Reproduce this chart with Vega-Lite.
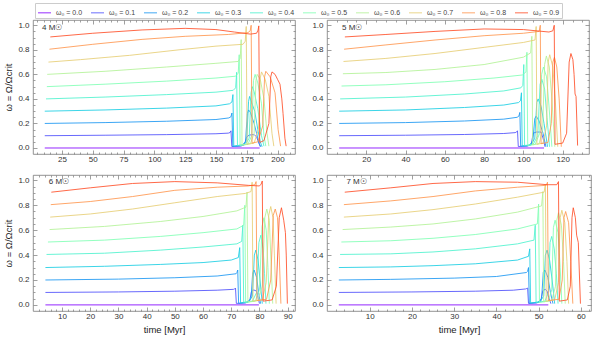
{
"$schema":"https://vega.github.io/schema/vega-lite/v6.json",
"padding":{"left":3,"top":2,"right":6,"bottom":2},
"config":{"font":"Liberation Sans","view":{"stroke":"#777","strokeWidth":0.8},
"axis":{"grid":false,"domain":false,"labelFontSize":8,"labelColor":"#333","tickColor":"#777","tickWidth":0.7,"titleFontSize":9.5,"titleFontWeight":"normal","titleColor":"#222","labelFlush":false,"labelOverlap":false}},
"datasets":{"labels":[{"m":4,"t":8.8,"w":0.98,"txt":"4 M☉"},{"m":5,"t":7.7,"w":0.98,"txt":"5 M☉"},{"m":6,"t":5.3,"w":0.985,"txt":"6 M☉"},{"m":7,"t":4.5,"w":0.985,"txt":"7 M☉"}]},
"data":{"values":[
{"m":4,"k":0,"t":11,"w":0},{"m":4,"k":0,"t":185.5,"w":0},
{"m":4,"k":0.1,"t":11,"w":0.1},{"m":4,"k":0.1,"t":60,"w":0.104},{"m":4,"k":0.1,"t":110,"w":0.109},{"m":4,"k":0.1,"t":150,"w":0.116},{"m":4,"k":0.1,"t":160,"w":0.121},{"m":4,"k":0.1,"t":161.5,"w":0.126},{"m":4,"k":0.1,"t":162.2,"w":0.14},{"m":4,"k":0.1,"t":162.9,"w":0.012},{"m":4,"k":0.1,"t":170,"w":0.015},{"m":4,"k":0.1,"t":173,"w":0.025},{"m":4,"k":0.1,"t":175,"w":0.09},{"m":4,"k":0.1,"t":177,"w":0.105},{"m":4,"k":0.1,"t":181,"w":0.11},{"m":4,"k":0.1,"t":183,"w":0.09},{"m":4,"k":0.1,"t":184.5,"w":0.05},{"m":4,"k":0.1,"t":186,"w":0.01},
{"m":4,"k":0.2,"t":11,"w":0.2},{"m":4,"k":0.2,"t":60,"w":0.207},{"m":4,"k":0.2,"t":110,"w":0.218},{"m":4,"k":0.2,"t":150,"w":0.232},{"m":4,"k":0.2,"t":160.5,"w":0.245},{"m":4,"k":0.2,"t":162.2,"w":0.255},{"m":4,"k":0.2,"t":163,"w":0.285},{"m":4,"k":0.2,"t":163.7,"w":0.012},{"m":4,"k":0.2,"t":171,"w":0.02},{"m":4,"k":0.2,"t":174,"w":0.05},{"m":4,"k":0.2,"t":175.5,"w":0.28},{"m":4,"k":0.2,"t":176.5,"w":0.31},{"m":4,"k":0.2,"t":178,"w":0.29},{"m":4,"k":0.2,"t":181,"w":0.2},{"m":4,"k":0.2,"t":183,"w":0.12},{"m":4,"k":0.2,"t":185,"w":0.04},{"m":4,"k":0.2,"t":186.5,"w":0.01},
{"m":4,"k":0.3,"t":11,"w":0.3},{"m":4,"k":0.3,"t":60,"w":0.31},{"m":4,"k":0.3,"t":110,"w":0.325},{"m":4,"k":0.3,"t":150,"w":0.343},{"m":4,"k":0.3,"t":161,"w":0.36},{"m":4,"k":0.3,"t":163,"w":0.375},{"m":4,"k":0.3,"t":163.8,"w":0.435},{"m":4,"k":0.3,"t":164.5,"w":0.015},{"m":4,"k":0.3,"t":172,"w":0.025},{"m":4,"k":0.3,"t":175,"w":0.06},{"m":4,"k":0.3,"t":176.5,"w":0.38},{"m":4,"k":0.3,"t":177.3,"w":0.42},{"m":4,"k":0.3,"t":179,"w":0.37},{"m":4,"k":0.3,"t":181.5,"w":0.3},{"m":4,"k":0.3,"t":184,"w":0.15},{"m":4,"k":0.3,"t":186,"w":0.05},{"m":4,"k":0.3,"t":187.5,"w":0.01},
{"m":4,"k":0.4,"t":12,"w":0.4},{"m":4,"k":0.4,"t":60,"w":0.415},{"m":4,"k":0.4,"t":110,"w":0.435},{"m":4,"k":0.4,"t":150,"w":0.455},{"m":4,"k":0.4,"t":164,"w":0.47},{"m":4,"k":0.4,"t":166,"w":0.49},{"m":4,"k":0.4,"t":166.8,"w":0.617},{"m":4,"k":0.4,"t":167.5,"w":0.02},{"m":4,"k":0.4,"t":174,"w":0.03},{"m":4,"k":0.4,"t":177,"w":0.08},{"m":4,"k":0.4,"t":178.5,"w":0.45},{"m":4,"k":0.4,"t":179.5,"w":0.5},{"m":4,"k":0.4,"t":181,"w":0.46},{"m":4,"k":0.4,"t":184,"w":0.32},{"m":4,"k":0.4,"t":187,"w":0.1},{"m":4,"k":0.4,"t":189,"w":0.015},
{"m":4,"k":0.5,"t":12.7,"w":0.5},{"m":4,"k":0.5,"t":60,"w":0.52},{"m":4,"k":0.5,"t":110,"w":0.545},{"m":4,"k":0.5,"t":150,"w":0.57},{"m":4,"k":0.5,"t":166,"w":0.585},{"m":4,"k":0.5,"t":168.1,"w":0.61},{"m":4,"k":0.5,"t":168.9,"w":0.76},{"m":4,"k":0.5,"t":169.6,"w":0.02},{"m":4,"k":0.5,"t":176,"w":0.03},{"m":4,"k":0.5,"t":179,"w":0.1},{"m":4,"k":0.5,"t":180.5,"w":0.55},{"m":4,"k":0.5,"t":181.8,"w":0.6},{"m":4,"k":0.5,"t":184,"w":0.53},{"m":4,"k":0.5,"t":187,"w":0.36},{"m":4,"k":0.5,"t":189,"w":0.1},{"m":4,"k":0.5,"t":190.5,"w":0.015},
{"m":4,"k":0.6,"t":13,"w":0.6},{"m":4,"k":0.6,"t":60,"w":0.625},{"m":4,"k":0.6,"t":110,"w":0.66},{"m":4,"k":0.6,"t":150,"w":0.69},{"m":4,"k":0.6,"t":168,"w":0.705},{"m":4,"k":0.6,"t":169.7,"w":0.73},{"m":4,"k":0.6,"t":170.5,"w":0.883},{"m":4,"k":0.6,"t":171.2,"w":0.025},{"m":4,"k":0.6,"t":178,"w":0.035},{"m":4,"k":0.6,"t":181,"w":0.12},{"m":4,"k":0.6,"t":182.5,"w":0.55},{"m":4,"k":0.6,"t":183.5,"w":0.6},{"m":4,"k":0.6,"t":186,"w":0.56},{"m":4,"k":0.6,"t":189,"w":0.4},{"m":4,"k":0.6,"t":191.5,"w":0.12},{"m":4,"k":0.6,"t":193,"w":0.015},
{"m":4,"k":0.7,"t":14,"w":0.7},{"m":4,"k":0.7,"t":40,"w":0.72},{"m":4,"k":0.7,"t":80,"w":0.755},{"m":4,"k":0.7,"t":120,"w":0.8},{"m":4,"k":0.7,"t":150,"w":0.83},{"m":4,"k":0.7,"t":172,"w":0.845},{"m":4,"k":0.7,"t":173.8,"w":0.87},{"m":4,"k":0.7,"t":174.6,"w":0.99},{"m":4,"k":0.7,"t":175.3,"w":0.03},{"m":4,"k":0.7,"t":181,"w":0.04},{"m":4,"k":0.7,"t":184.5,"w":0.15},{"m":4,"k":0.7,"t":186,"w":0.57},{"m":4,"k":0.7,"t":187,"w":0.62},{"m":4,"k":0.7,"t":190,"w":0.56},{"m":4,"k":0.7,"t":193,"w":0.42},{"m":4,"k":0.7,"t":195.5,"w":0.12},{"m":4,"k":0.7,"t":197,"w":0.015},
{"m":4,"k":0.8,"t":14.8,"w":0.805},{"m":4,"k":0.8,"t":50,"w":0.845},{"m":4,"k":0.8,"t":90,"w":0.885},{"m":4,"k":0.8,"t":125,"w":0.91},{"m":4,"k":0.8,"t":160,"w":0.925},{"m":4,"k":0.8,"t":176,"w":0.94},{"m":4,"k":0.8,"t":177.8,"w":0.955},{"m":4,"k":0.8,"t":178.6,"w":1.0},{"m":4,"k":0.8,"t":179.3,"w":0.04},{"m":4,"k":0.8,"t":184,"w":0.05},{"m":4,"k":0.8,"t":188,"w":0.18},{"m":4,"k":0.8,"t":189.5,"w":0.58},{"m":4,"k":0.8,"t":190.5,"w":0.625},{"m":4,"k":0.8,"t":194,"w":0.58},{"m":4,"k":0.8,"t":198,"w":0.45},{"m":4,"k":0.8,"t":200.5,"w":0.15},{"m":4,"k":0.8,"t":202.5,"w":0.015},
{"m":4,"k":0.9,"t":15.5,"w":0.905},{"m":4,"k":0.9,"t":50,"w":0.935},{"m":4,"k":0.9,"t":90,"w":0.962},{"m":4,"k":0.9,"t":125,"w":0.975},{"m":4,"k":0.9,"t":150,"w":0.965},{"m":4,"k":0.9,"t":165,"w":0.945},{"m":4,"k":0.9,"t":178,"w":0.928},{"m":4,"k":0.9,"t":183,"w":0.935},{"m":4,"k":0.9,"t":184.2,"w":0.96},{"m":4,"k":0.9,"t":184.8,"w":0.995},{"m":4,"k":0.9,"t":185.5,"w":0.045},{"m":4,"k":0.9,"t":189,"w":0.06},{"m":4,"k":0.9,"t":193,"w":0.2},{"m":4,"k":0.9,"t":194.5,"w":0.58},{"m":4,"k":0.9,"t":195.5,"w":0.62},{"m":4,"k":0.9,"t":198,"w":0.6},{"m":4,"k":0.9,"t":200,"w":0.56},{"m":4,"k":0.9,"t":202,"w":0.52},{"m":4,"k":0.9,"t":203.5,"w":0.4},{"m":4,"k":0.9,"t":204.5,"w":0.28},{"m":4,"k":0.9,"t":206,"w":0.08},{"m":4,"k":0.9,"t":207,"w":0.015},
{"m":5,"k":0,"t":6.2,"w":0},{"m":5,"k":0,"t":110.5,"w":0},
{"m":5,"k":0.1,"t":6.2,"w":0.1},{"m":5,"k":0.1,"t":40,"w":0.104},{"m":5,"k":0.1,"t":70,"w":0.11},{"m":5,"k":0.1,"t":90,"w":0.118},{"m":5,"k":0.1,"t":95.8,"w":0.125},{"m":5,"k":0.1,"t":96.5,"w":0.13},{"m":5,"k":0.1,"t":97,"w":0.14},{"m":5,"k":0.1,"t":97.4,"w":0.012},{"m":5,"k":0.1,"t":102,"w":0.015},{"m":5,"k":0.1,"t":104,"w":0.03},{"m":5,"k":0.1,"t":105,"w":0.12},{"m":5,"k":0.1,"t":106.5,"w":0.13},{"m":5,"k":0.1,"t":109,"w":0.13},{"m":5,"k":0.1,"t":110,"w":0.08},{"m":5,"k":0.1,"t":111,"w":0.01},
{"m":5,"k":0.2,"t":6.2,"w":0.2},{"m":5,"k":0.2,"t":40,"w":0.207},{"m":5,"k":0.2,"t":70,"w":0.22},{"m":5,"k":0.2,"t":90,"w":0.235},{"m":5,"k":0.2,"t":96.8,"w":0.25},{"m":5,"k":0.2,"t":97.7,"w":0.26},{"m":5,"k":0.2,"t":98.2,"w":0.29},{"m":5,"k":0.2,"t":98.6,"w":0.015},{"m":5,"k":0.2,"t":103,"w":0.02},{"m":5,"k":0.2,"t":104.8,"w":0.06},{"m":5,"k":0.2,"t":105.8,"w":0.24},{"m":5,"k":0.2,"t":106.5,"w":0.26},{"m":5,"k":0.2,"t":108,"w":0.22},{"m":5,"k":0.2,"t":110,"w":0.12},{"m":5,"k":0.2,"t":111.5,"w":0.01},
{"m":5,"k":0.3,"t":6.2,"w":0.3},{"m":5,"k":0.3,"t":40,"w":0.31},{"m":5,"k":0.3,"t":70,"w":0.33},{"m":5,"k":0.3,"t":90,"w":0.35},{"m":5,"k":0.3,"t":97.5,"w":0.37},{"m":5,"k":0.3,"t":98.5,"w":0.385},{"m":5,"k":0.3,"t":99,"w":0.45},{"m":5,"k":0.3,"t":99.4,"w":0.015},{"m":5,"k":0.3,"t":104,"w":0.025},{"m":5,"k":0.3,"t":105.8,"w":0.08},{"m":5,"k":0.3,"t":106.8,"w":0.37},{"m":5,"k":0.3,"t":107.5,"w":0.4},{"m":5,"k":0.3,"t":109,"w":0.34},{"m":5,"k":0.3,"t":110.5,"w":0.2},{"m":5,"k":0.3,"t":112.3,"w":0.01},
{"m":5,"k":0.4,"t":6.7,"w":0.4},{"m":5,"k":0.4,"t":40,"w":0.415},{"m":5,"k":0.4,"t":70,"w":0.44},{"m":5,"k":0.4,"t":90,"w":0.465},{"m":5,"k":0.4,"t":98.7,"w":0.49},{"m":5,"k":0.4,"t":99.7,"w":0.51},{"m":5,"k":0.4,"t":100.2,"w":0.68},{"m":5,"k":0.4,"t":100.6,"w":0.02},{"m":5,"k":0.4,"t":105,"w":0.03},{"m":5,"k":0.4,"t":107.3,"w":0.1},{"m":5,"k":0.4,"t":108.5,"w":0.52},{"m":5,"k":0.4,"t":109.4,"w":0.56},{"m":5,"k":0.4,"t":110.8,"w":0.48},{"m":5,"k":0.4,"t":112,"w":0.25},{"m":5,"k":0.4,"t":113.3,"w":0.01},
{"m":5,"k":0.5,"t":7.4,"w":0.505},{"m":5,"k":0.5,"t":30,"w":0.515},{"m":5,"k":0.5,"t":60,"w":0.54},{"m":5,"k":0.5,"t":85,"w":0.57},{"m":5,"k":0.5,"t":99.5,"w":0.595},{"m":5,"k":0.5,"t":101.3,"w":0.62},{"m":5,"k":0.5,"t":101.8,"w":0.78},{"m":5,"k":0.5,"t":102.2,"w":0.02},{"m":5,"k":0.5,"t":106,"w":0.03},{"m":5,"k":0.5,"t":108.3,"w":0.12},{"m":5,"k":0.5,"t":109.3,"w":0.6},{"m":5,"k":0.5,"t":110.2,"w":0.66},{"m":5,"k":0.5,"t":111.8,"w":0.58},{"m":5,"k":0.5,"t":113,"w":0.35},{"m":5,"k":0.5,"t":114.5,"w":0.01},
{"m":5,"k":0.6,"t":8.1,"w":0.605},{"m":5,"k":0.6,"t":30,"w":0.615},{"m":5,"k":0.6,"t":55,"w":0.64},{"m":5,"k":0.6,"t":80,"w":0.68},{"m":5,"k":0.6,"t":100,"w":0.74},{"m":5,"k":0.6,"t":103.7,"w":0.775},{"m":5,"k":0.6,"t":104.3,"w":0.91},{"m":5,"k":0.6,"t":104.7,"w":0.025},{"m":5,"k":0.6,"t":108,"w":0.035},{"m":5,"k":0.6,"t":109.8,"w":0.15},{"m":5,"k":0.6,"t":110.8,"w":0.68},{"m":5,"k":0.6,"t":111.7,"w":0.75},{"m":5,"k":0.6,"t":113.2,"w":0.66},{"m":5,"k":0.6,"t":114.5,"w":0.4},{"m":5,"k":0.6,"t":116,"w":0.01},
{"m":5,"k":0.7,"t":8.4,"w":0.705},{"m":5,"k":0.7,"t":30,"w":0.73},{"m":5,"k":0.7,"t":55,"w":0.77},{"m":5,"k":0.7,"t":80,"w":0.82},{"m":5,"k":0.7,"t":100,"w":0.86},{"m":5,"k":0.7,"t":105.9,"w":0.88},{"m":5,"k":0.7,"t":106.5,"w":0.99},{"m":5,"k":0.7,"t":106.9,"w":0.03},{"m":5,"k":0.7,"t":110,"w":0.04},{"m":5,"k":0.7,"t":111.8,"w":0.18},{"m":5,"k":0.7,"t":112.6,"w":0.7},{"m":5,"k":0.7,"t":113.4,"w":0.76},{"m":5,"k":0.7,"t":115,"w":0.66},{"m":5,"k":0.7,"t":116.2,"w":0.4},{"m":5,"k":0.7,"t":117.5,"w":0.01},
{"m":5,"k":0.8,"t":8.7,"w":0.805},{"m":5,"k":0.8,"t":30,"w":0.84},{"m":5,"k":0.8,"t":55,"w":0.88},{"m":5,"k":0.8,"t":80,"w":0.915},{"m":5,"k":0.8,"t":100,"w":0.935},{"m":5,"k":0.8,"t":108,"w":0.95},{"m":5,"k":0.8,"t":108.6,"w":1.0},{"m":5,"k":0.8,"t":109,"w":0.035},{"m":5,"k":0.8,"t":112.5,"w":0.045},{"m":5,"k":0.8,"t":114.2,"w":0.2},{"m":5,"k":0.8,"t":115,"w":0.7},{"m":5,"k":0.8,"t":115.8,"w":0.74},{"m":5,"k":0.8,"t":117,"w":0.66},{"m":5,"k":0.8,"t":118.2,"w":0.4},{"m":5,"k":0.8,"t":119.3,"w":0.01},
{"m":5,"k":0.9,"t":9.1,"w":0.905},{"m":5,"k":0.9,"t":30,"w":0.925},{"m":5,"k":0.9,"t":55,"w":0.95},{"m":5,"k":0.9,"t":80,"w":0.97},{"m":5,"k":0.9,"t":100,"w":0.965},{"m":5,"k":0.9,"t":113,"w":0.945},{"m":5,"k":0.9,"t":115,"w":0.955},{"m":5,"k":0.9,"t":115.7,"w":1.0},{"m":5,"k":0.9,"t":116.1,"w":0.03},{"m":5,"k":0.9,"t":120,"w":0.04},{"m":5,"k":0.9,"t":122,"w":0.12},{"m":5,"k":0.9,"t":123.3,"w":0.7},{"m":5,"k":0.9,"t":124.2,"w":0.77},{"m":5,"k":0.9,"t":125.2,"w":0.72},{"m":5,"k":0.9,"t":125.8,"w":0.6},{"m":5,"k":0.9,"t":126.3,"w":0.44},{"m":5,"k":0.9,"t":126.8,"w":0.42},{"m":5,"k":0.9,"t":127.6,"w":0.02},
{"m":6,"k":0,"t":4.1,"w":0},{"m":6,"k":0,"t":79.8,"w":0},
{"m":6,"k":0.1,"t":4.1,"w":0.1},{"m":6,"k":0.1,"t":30,"w":0.104},{"m":6,"k":0.1,"t":50,"w":0.11},{"m":6,"k":0.1,"t":65,"w":0.118},{"m":6,"k":0.1,"t":70.8,"w":0.125},{"m":6,"k":0.1,"t":71.2,"w":0.128},{"m":6,"k":0.1,"t":71.5,"w":0.135},{"m":6,"k":0.1,"t":71.8,"w":0.012},{"m":6,"k":0.1,"t":75,"w":0.015},{"m":6,"k":0.1,"t":76.5,"w":0.03},{"m":6,"k":0.1,"t":77.2,"w":0.11},{"m":6,"k":0.1,"t":78,"w":0.12},{"m":6,"k":0.1,"t":79,"w":0.11},{"m":6,"k":0.1,"t":79.5,"w":0.06},{"m":6,"k":0.1,"t":80,"w":0.01},
{"m":6,"k":0.2,"t":4.1,"w":0.2},{"m":6,"k":0.2,"t":30,"w":0.207},{"m":6,"k":0.2,"t":50,"w":0.218},{"m":6,"k":0.2,"t":65,"w":0.232},{"m":6,"k":0.2,"t":71.7,"w":0.25},{"m":6,"k":0.2,"t":72,"w":0.26},{"m":6,"k":0.2,"t":72.3,"w":0.28},{"m":6,"k":0.2,"t":72.6,"w":0.012},{"m":6,"k":0.2,"t":75.5,"w":0.02},{"m":6,"k":0.2,"t":77,"w":0.05},{"m":6,"k":0.2,"t":77.6,"w":0.26},{"m":6,"k":0.2,"t":78.1,"w":0.28},{"m":6,"k":0.2,"t":79,"w":0.22},{"m":6,"k":0.2,"t":79.7,"w":0.1},{"m":6,"k":0.2,"t":80.4,"w":0.01},
{"m":6,"k":0.3,"t":4.1,"w":0.3},{"m":6,"k":0.3,"t":25,"w":0.31},{"m":6,"k":0.3,"t":45,"w":0.325},{"m":6,"k":0.3,"t":60,"w":0.34},{"m":6,"k":0.3,"t":70,"w":0.36},{"m":6,"k":0.3,"t":72.5,"w":0.38},{"m":6,"k":0.3,"t":73,"w":0.46},{"m":6,"k":0.3,"t":73.3,"w":0.015},{"m":6,"k":0.3,"t":76,"w":0.025},{"m":6,"k":0.3,"t":77.5,"w":0.07},{"m":6,"k":0.3,"t":78.2,"w":0.4},{"m":6,"k":0.3,"t":78.7,"w":0.44},{"m":6,"k":0.3,"t":79.5,"w":0.36},{"m":6,"k":0.3,"t":80.2,"w":0.2},{"m":6,"k":0.3,"t":81,"w":0.01},
{"m":6,"k":0.4,"t":4.5,"w":0.405},{"m":6,"k":0.4,"t":25,"w":0.415},{"m":6,"k":0.4,"t":45,"w":0.44},{"m":6,"k":0.4,"t":60,"w":0.465},{"m":6,"k":0.4,"t":72,"w":0.49},{"m":6,"k":0.4,"t":73.7,"w":0.51},{"m":6,"k":0.4,"t":74.1,"w":0.64},{"m":6,"k":0.4,"t":74.4,"w":0.02},{"m":6,"k":0.4,"t":77.5,"w":0.03},{"m":6,"k":0.4,"t":79,"w":0.1},{"m":6,"k":0.4,"t":79.8,"w":0.5},{"m":6,"k":0.4,"t":80.5,"w":0.56},{"m":6,"k":0.4,"t":81.3,"w":0.45},{"m":6,"k":0.4,"t":81.8,"w":0.25},{"m":6,"k":0.4,"t":82.3,"w":0.01},
{"m":6,"k":0.5,"t":5,"w":0.505},{"m":6,"k":0.5,"t":25,"w":0.52},{"m":6,"k":0.5,"t":45,"w":0.55},{"m":6,"k":0.5,"t":60,"w":0.58},{"m":6,"k":0.5,"t":72,"w":0.61},{"m":6,"k":0.5,"t":74.4,"w":0.64},{"m":6,"k":0.5,"t":74.8,"w":0.8},{"m":6,"k":0.5,"t":75.1,"w":0.02},{"m":6,"k":0.5,"t":78.5,"w":0.03},{"m":6,"k":0.5,"t":80,"w":0.12},{"m":6,"k":0.5,"t":80.9,"w":0.63},{"m":6,"k":0.5,"t":81.6,"w":0.7},{"m":6,"k":0.5,"t":82.4,"w":0.6},{"m":6,"k":0.5,"t":83,"w":0.3},{"m":6,"k":0.5,"t":83.5,"w":0.01},
{"m":6,"k":0.6,"t":5.6,"w":0.605},{"m":6,"k":0.6,"t":25,"w":0.63},{"m":6,"k":0.6,"t":45,"w":0.67},{"m":6,"k":0.6,"t":60,"w":0.71},{"m":6,"k":0.6,"t":72,"w":0.755},{"m":6,"k":0.6,"t":75.2,"w":0.785},{"m":6,"k":0.6,"t":75.6,"w":0.905},{"m":6,"k":0.6,"t":75.9,"w":0.025},{"m":6,"k":0.6,"t":79.5,"w":0.035},{"m":6,"k":0.6,"t":81,"w":0.15},{"m":6,"k":0.6,"t":81.9,"w":0.7},{"m":6,"k":0.6,"t":82.6,"w":0.77},{"m":6,"k":0.6,"t":83.5,"w":0.68},{"m":6,"k":0.6,"t":84.1,"w":0.35},{"m":6,"k":0.6,"t":84.7,"w":0.01},
{"m":6,"k":0.7,"t":5.8,"w":0.705},{"m":6,"k":0.7,"t":20,"w":0.73},{"m":6,"k":0.7,"t":35,"w":0.77},{"m":6,"k":0.7,"t":50,"w":0.82},{"m":6,"k":0.7,"t":65,"w":0.87},{"m":6,"k":0.7,"t":75,"w":0.895},{"m":6,"k":0.7,"t":77,"w":0.91},{"m":6,"k":0.7,"t":77.4,"w":0.985},{"m":6,"k":0.7,"t":77.7,"w":0.03},{"m":6,"k":0.7,"t":81,"w":0.04},{"m":6,"k":0.7,"t":82.4,"w":0.18},{"m":6,"k":0.7,"t":83.3,"w":0.72},{"m":6,"k":0.7,"t":84,"w":0.79},{"m":6,"k":0.7,"t":84.8,"w":0.7},{"m":6,"k":0.7,"t":85.3,"w":0.4},{"m":6,"k":0.7,"t":85.9,"w":0.01},
{"m":6,"k":0.8,"t":6,"w":0.805},{"m":6,"k":0.8,"t":20,"w":0.83},{"m":6,"k":0.8,"t":35,"w":0.87},{"m":6,"k":0.8,"t":50,"w":0.92},{"m":6,"k":0.8,"t":65,"w":0.945},{"m":6,"k":0.8,"t":76,"w":0.955},{"m":6,"k":0.8,"t":78.4,"w":0.965},{"m":6,"k":0.8,"t":78.8,"w":0.99},{"m":6,"k":0.8,"t":79.1,"w":0.035},{"m":6,"k":0.8,"t":82.5,"w":0.045},{"m":6,"k":0.8,"t":84,"w":0.2},{"m":6,"k":0.8,"t":84.9,"w":0.72},{"m":6,"k":0.8,"t":85.6,"w":0.77},{"m":6,"k":0.8,"t":86.4,"w":0.7},{"m":6,"k":0.8,"t":87,"w":0.4},{"m":6,"k":0.8,"t":87.6,"w":0.01},
{"m":6,"k":0.9,"t":6.2,"w":0.905},{"m":6,"k":0.9,"t":20,"w":0.94},{"m":6,"k":0.9,"t":35,"w":0.975},{"m":6,"k":0.9,"t":50,"w":0.99},{"m":6,"k":0.9,"t":65,"w":0.98},{"m":6,"k":0.9,"t":76,"w":0.96},{"m":6,"k":0.9,"t":80,"w":0.955},{"m":6,"k":0.9,"t":80.6,"w":0.97},{"m":6,"k":0.9,"t":81,"w":0.995},{"m":6,"k":0.9,"t":81.3,"w":0.03},{"m":6,"k":0.9,"t":84.5,"w":0.04},{"m":6,"k":0.9,"t":86,"w":0.15},{"m":6,"k":0.9,"t":87,"w":0.7},{"m":6,"k":0.9,"t":87.8,"w":0.78},{"m":6,"k":0.9,"t":88.6,"w":0.68},{"m":6,"k":0.9,"t":89.2,"w":0.58},{"m":6,"k":0.9,"t":89.5,"w":0.4},{"m":6,"k":0.9,"t":89.9,"w":0.01},
{"m":7,"k":0,"t":2.7,"w":0},{"m":7,"k":0,"t":52.3,"w":0},
{"m":7,"k":0.1,"t":2.7,"w":0.1},{"m":7,"k":0.1,"t":20,"w":0.104},{"m":7,"k":0.1,"t":35,"w":0.11},{"m":7,"k":0.1,"t":44,"w":0.118},{"m":7,"k":0.1,"t":46.9,"w":0.128},{"m":7,"k":0.1,"t":47.2,"w":0.132},{"m":7,"k":0.1,"t":47.4,"w":0.135},{"m":7,"k":0.1,"t":47.6,"w":0.012},{"m":7,"k":0.1,"t":49.5,"w":0.015},{"m":7,"k":0.1,"t":50.5,"w":0.03},{"m":7,"k":0.1,"t":51,"w":0.115},{"m":7,"k":0.1,"t":51.6,"w":0.125},{"m":7,"k":0.1,"t":52,"w":0.11},{"m":7,"k":0.1,"t":52.4,"w":0.06},{"m":7,"k":0.1,"t":52.9,"w":0.01},
{"m":7,"k":0.2,"t":2.7,"w":0.2},{"m":7,"k":0.2,"t":15,"w":0.205},{"m":7,"k":0.2,"t":30,"w":0.215},{"m":7,"k":0.2,"t":40,"w":0.228},{"m":7,"k":0.2,"t":47.1,"w":0.26},{"m":7,"k":0.2,"t":47.4,"w":0.27},{"m":7,"k":0.2,"t":47.6,"w":0.3},{"m":7,"k":0.2,"t":47.8,"w":0.012},{"m":7,"k":0.2,"t":49.8,"w":0.02},{"m":7,"k":0.2,"t":50.7,"w":0.05},{"m":7,"k":0.2,"t":51.1,"w":0.26},{"m":7,"k":0.2,"t":51.5,"w":0.28},{"m":7,"k":0.2,"t":52.2,"w":0.22},{"m":7,"k":0.2,"t":52.8,"w":0.1},{"m":7,"k":0.2,"t":53.4,"w":0.01},
{"m":7,"k":0.3,"t":2.7,"w":0.3},{"m":7,"k":0.3,"t":15,"w":0.305},{"m":7,"k":0.3,"t":25,"w":0.315},{"m":7,"k":0.3,"t":35,"w":0.33},{"m":7,"k":0.3,"t":45,"w":0.36},{"m":7,"k":0.3,"t":47.6,"w":0.39},{"m":7,"k":0.3,"t":47.9,"w":0.45},{"m":7,"k":0.3,"t":48.1,"w":0.015},{"m":7,"k":0.3,"t":50.3,"w":0.025},{"m":7,"k":0.3,"t":51.2,"w":0.07},{"m":7,"k":0.3,"t":51.6,"w":0.4},{"m":7,"k":0.3,"t":52,"w":0.44},{"m":7,"k":0.3,"t":52.6,"w":0.36},{"m":7,"k":0.3,"t":53.2,"w":0.2},{"m":7,"k":0.3,"t":53.8,"w":0.01},
{"m":7,"k":0.4,"t":3,"w":0.405},{"m":7,"k":0.4,"t":15,"w":0.41},{"m":7,"k":0.4,"t":25,"w":0.425},{"m":7,"k":0.4,"t":35,"w":0.45},{"m":7,"k":0.4,"t":45,"w":0.49},{"m":7,"k":0.4,"t":48.9,"w":0.52},{"m":7,"k":0.4,"t":49.2,"w":0.64},{"m":7,"k":0.4,"t":49.4,"w":0.02},{"m":7,"k":0.4,"t":51.5,"w":0.03},{"m":7,"k":0.4,"t":52.3,"w":0.1},{"m":7,"k":0.4,"t":52.7,"w":0.5},{"m":7,"k":0.4,"t":53.1,"w":0.55},{"m":7,"k":0.4,"t":53.7,"w":0.45},{"m":7,"k":0.4,"t":54.2,"w":0.25},{"m":7,"k":0.4,"t":54.6,"w":0.01},
{"m":7,"k":0.5,"t":3.3,"w":0.505},{"m":7,"k":0.5,"t":15,"w":0.515},{"m":7,"k":0.5,"t":25,"w":0.535},{"m":7,"k":0.5,"t":35,"w":0.565},{"m":7,"k":0.5,"t":45,"w":0.61},{"m":7,"k":0.5,"t":49.7,"w":0.65},{"m":7,"k":0.5,"t":50,"w":0.81},{"m":7,"k":0.5,"t":50.2,"w":0.02},{"m":7,"k":0.5,"t":52.3,"w":0.03},{"m":7,"k":0.5,"t":53.1,"w":0.12},{"m":7,"k":0.5,"t":53.5,"w":0.62},{"m":7,"k":0.5,"t":53.9,"w":0.68},{"m":7,"k":0.5,"t":54.6,"w":0.58},{"m":7,"k":0.5,"t":55.1,"w":0.3},{"m":7,"k":0.5,"t":55.5,"w":0.01},
{"m":7,"k":0.6,"t":3.6,"w":0.605},{"m":7,"k":0.6,"t":15,"w":0.625},{"m":7,"k":0.6,"t":25,"w":0.65},{"m":7,"k":0.6,"t":35,"w":0.69},{"m":7,"k":0.6,"t":45,"w":0.745},{"m":7,"k":0.6,"t":50.7,"w":0.795},{"m":7,"k":0.6,"t":51,"w":0.91},{"m":7,"k":0.6,"t":51.2,"w":0.025},{"m":7,"k":0.6,"t":53.1,"w":0.035},{"m":7,"k":0.6,"t":54,"w":0.15},{"m":7,"k":0.6,"t":54.3,"w":0.68},{"m":7,"k":0.6,"t":54.7,"w":0.74},{"m":7,"k":0.6,"t":55.4,"w":0.64},{"m":7,"k":0.6,"t":55.9,"w":0.35},{"m":7,"k":0.6,"t":56.3,"w":0.01},
{"m":7,"k":0.7,"t":3.9,"w":0.705},{"m":7,"k":0.7,"t":15,"w":0.73},{"m":7,"k":0.7,"t":25,"w":0.765},{"m":7,"k":0.7,"t":35,"w":0.81},{"m":7,"k":0.7,"t":45,"w":0.865},{"m":7,"k":0.7,"t":51.3,"w":0.905},{"m":7,"k":0.7,"t":51.6,"w":0.97},{"m":7,"k":0.7,"t":51.8,"w":0.03},{"m":7,"k":0.7,"t":53.8,"w":0.04},{"m":7,"k":0.7,"t":54.7,"w":0.18},{"m":7,"k":0.7,"t":55.1,"w":0.7},{"m":7,"k":0.7,"t":55.5,"w":0.76},{"m":7,"k":0.7,"t":56.2,"w":0.66},{"m":7,"k":0.7,"t":56.7,"w":0.35},{"m":7,"k":0.7,"t":57.1,"w":0.01},
{"m":7,"k":0.8,"t":3.9,"w":0.805},{"m":7,"k":0.8,"t":15,"w":0.835},{"m":7,"k":0.8,"t":25,"w":0.87},{"m":7,"k":0.8,"t":35,"w":0.915},{"m":7,"k":0.8,"t":45,"w":0.945},{"m":7,"k":0.8,"t":51.8,"w":0.96},{"m":7,"k":0.8,"t":52.1,"w":0.985},{"m":7,"k":0.8,"t":52.3,"w":0.035},{"m":7,"k":0.8,"t":54.8,"w":0.045},{"m":7,"k":0.8,"t":55.6,"w":0.2},{"m":7,"k":0.8,"t":56,"w":0.7},{"m":7,"k":0.8,"t":56.4,"w":0.75},{"m":7,"k":0.8,"t":57.1,"w":0.66},{"m":7,"k":0.8,"t":57.6,"w":0.35},{"m":7,"k":0.8,"t":58.1,"w":0.01},
{"m":7,"k":0.9,"t":4.1,"w":0.905},{"m":7,"k":0.9,"t":15,"w":0.94},{"m":7,"k":0.9,"t":25,"w":0.975},{"m":7,"k":0.9,"t":35,"w":0.99},{"m":7,"k":0.9,"t":45,"w":0.985},{"m":7,"k":0.9,"t":52,"w":0.965},{"m":7,"k":0.9,"t":54.3,"w":0.965},{"m":7,"k":0.9,"t":54.7,"w":0.99},{"m":7,"k":0.9,"t":54.9,"w":0.03},{"m":7,"k":0.9,"t":56.8,"w":0.04},{"m":7,"k":0.9,"t":57.5,"w":0.15},{"m":7,"k":0.9,"t":57.9,"w":0.7},{"m":7,"k":0.9,"t":58.2,"w":0.78},{"m":7,"k":0.9,"t":58.7,"w":0.7},{"m":7,"k":0.9,"t":59,"w":0.56},{"m":7,"k":0.9,"t":59.4,"w":0.5},{"m":7,"k":0.9,"t":59.7,"w":0.2},{"m":7,"k":0.9,"t":59.9,"w":0.01}
]},
"vconcat":[
{"hconcat":[
{"width":262,"height":134,"resolve":{"axis":{"x":"independent","y":"independent"}},
"layer":[
{"transform":[{"filter":"datum.m==4"}],"mark":{"type":"line","strokeWidth":1,"opacity":0.85},
"encoding":{
"x":{"field":"t","type":"quantitative","scale":{"domain":[1.45,214.2],"nice":false,"zero":false},"axis":{"orient":"bottom","title":null,"values":[5,10,15,20,25,30,35,40,45,50,55,60,65,70,75,80,85,90,95,100,105,110,115,120,125,130,135,140,145,150,155,160,165,170,175,180,185,190,195,200,205,210],"labelExpr":"datum.value % 25 == 0 ? datum.label : ''","tickSize":{"condition":{"test":"datum.value % 25 == 0","value":-4},"value":-2},"labelPadding":5}},
"y":{"field":"w","type":"quantitative","scale":{"domain":[-0.049,1.043],"nice":false,"zero":false},"axis":{"orient":"left","title":"ω = Ω/Ωcrit","titlePadding":4,"values":[0,0.05,0.1,0.15,0.2,0.25,0.3,0.35,0.4,0.45,0.5,0.55,0.6,0.65,0.7,0.75,0.8,0.85,0.9,0.95,1],"labelExpr":"abs(datum.value*5-round(datum.value*5))<0.000001 ? format(datum.value,'.1f') : ''","tickSize":{"condition":{"test":"abs(datum.value*5-round(datum.value*5))<0.000001","value":-4},"value":-2},"labelPadding":8}},
"color":{"field":"k","type":"ordinal","scale":{"domain":[0,0.1,0.2,0.3,0.4,0.5,0.6,0.7,0.8,0.9],"range":["#8000FF","#4D4FFC","#1A96F2","#1ACEE3","#4DF2CE","#80FFB4","#B3F296","#E6CE74","#FF964F","#FF4F28"]},"legend":{"orient":"none","legendX":2,"legendY":-17,"direction":"horizontal","columns":10,"title":null,"symbolType":"stroke","symbolSize":169,"symbolStrokeWidth":1.5,"symbolOpacity":0.55,"labelFontSize":7,"labelColor":"#444","labelOffset":4,"columnPadding":5,"padding":2,"strokeColor":"#ccc","labelExpr":"'ω₀ = ' + format(datum.value, '.1f')"}}}},
{"data":{"name":"labels"},"transform":[{"filter":"datum.m==4"}],"mark":{"type":"text","align":"left","baseline":"middle","fontSize":8,"color":"#333"},
"encoding":{"text":{"field":"txt"},
"x":{"field":"t","type":"quantitative","scale":{"domain":[1.45,214.2],"nice":false,"zero":false},"axis":{"orient":"top","title":null,"labels":false,"values":[5,10,15,20,25,30,35,40,45,50,55,60,65,70,75,80,85,90,95,100,105,110,115,120,125,130,135,140,145,150,155,160,165,170,175,180,185,190,195,200,205,210],"tickSize":{"condition":{"test":"datum.value % 25 == 0","value":-4},"value":-2}}},
"y":{"field":"w","type":"quantitative","scale":{"domain":[-0.049,1.043],"nice":false,"zero":false},"axis":{"orient":"right","title":null,"labels":false,"values":[0,0.05,0.1,0.15,0.2,0.25,0.3,0.35,0.4,0.45,0.5,0.55,0.6,0.65,0.7,0.75,0.8,0.85,0.9,0.95,1],"tickSize":{"condition":{"test":"abs(datum.value*5-round(datum.value*5))<0.000001","value":-4},"value":-2}}}}}
]},
{"width":262,"height":134,"resolve":{"axis":{"x":"independent","y":"independent"}},
"layer":[
{"transform":[{"filter":"datum.m==5"}],"mark":{"type":"line","strokeWidth":1,"opacity":0.85},
"encoding":{
"x":{"field":"t","type":"quantitative","scale":{"domain":[0,133.4],"nice":false,"zero":false},"axis":{"orient":"bottom","title":null,"values":[5,10,15,20,25,30,35,40,45,50,55,60,65,70,75,80,85,90,95,100,105,110,115,120,125,130],"labelExpr":"datum.value % 20 == 0 ? datum.label : ''","tickSize":{"condition":{"test":"datum.value % 20 == 0","value":-4},"value":-2},"labelPadding":5}},
"y":{"field":"w","type":"quantitative","scale":{"domain":[-0.049,1.043],"nice":false,"zero":false},"axis":{"orient":"left","title":null,"values":[0,0.05,0.1,0.15,0.2,0.25,0.3,0.35,0.4,0.45,0.5,0.55,0.6,0.65,0.7,0.75,0.8,0.85,0.9,0.95,1],"labelExpr":"abs(datum.value*5-round(datum.value*5))<0.000001 ? format(datum.value,'.1f') : ''","tickSize":{"condition":{"test":"abs(datum.value*5-round(datum.value*5))<0.000001","value":-4},"value":-2},"labelPadding":8}},
"color":{"field":"k","type":"ordinal","scale":{"domain":[0,0.1,0.2,0.3,0.4,0.5,0.6,0.7,0.8,0.9],"range":["#8000FF","#4D4FFC","#1A96F2","#1ACEE3","#4DF2CE","#80FFB4","#B3F296","#E6CE74","#FF964F","#FF4F28"]},"legend":{"orient":"none","legendX":2,"legendY":-17,"direction":"horizontal","columns":10,"title":null,"symbolType":"stroke","symbolSize":169,"symbolStrokeWidth":1.5,"symbolOpacity":0.55,"labelFontSize":7,"labelColor":"#444","labelOffset":4,"columnPadding":5,"padding":2,"strokeColor":"#ccc","labelExpr":"'ω₀ = ' + format(datum.value, '.1f')"}}}},
{"data":{"name":"labels"},"transform":[{"filter":"datum.m==5"}],"mark":{"type":"text","align":"left","baseline":"middle","fontSize":8,"color":"#333"},
"encoding":{"text":{"field":"txt"},
"x":{"field":"t","type":"quantitative","scale":{"domain":[0,133.4],"nice":false,"zero":false},"axis":{"orient":"top","title":null,"labels":false,"values":[5,10,15,20,25,30,35,40,45,50,55,60,65,70,75,80,85,90,95,100,105,110,115,120,125,130],"tickSize":{"condition":{"test":"datum.value % 20 == 0","value":-4},"value":-2}}},
"y":{"field":"w","type":"quantitative","scale":{"domain":[-0.049,1.043],"nice":false,"zero":false},"axis":{"orient":"right","title":null,"labels":false,"values":[0,0.05,0.1,0.15,0.2,0.25,0.3,0.35,0.4,0.45,0.5,0.55,0.6,0.65,0.7,0.75,0.8,0.85,0.9,0.95,1],"tickSize":{"condition":{"test":"abs(datum.value*5-round(datum.value*5))<0.000001","value":-4},"value":-2}}}}}
]}
],"spacing":15},
{"hconcat":[
{"width":262,"height":136,"resolve":{"axis":{"x":"independent","y":"independent"}},
"layer":[
{"transform":[{"filter":"datum.m==6"}],"mark":{"type":"line","strokeWidth":1,"opacity":0.85},
"encoding":{
"x":{"field":"t","type":"quantitative","scale":{"domain":[-0.3,92.6],"nice":false,"zero":false},"axis":{"orient":"bottom","title":"time [Myr]","titlePadding":2,"values":[2,4,6,8,10,12,14,16,18,20,22,24,26,28,30,32,34,36,38,40,42,44,46,48,50,52,54,56,58,60,62,64,66,68,70,72,74,76,78,80,82,84,86,88,90,92],"labelExpr":"datum.value % 10 == 0 ? datum.label : ''","tickSize":{"condition":{"test":"datum.value % 10 == 0","value":-4},"value":-2},"labelPadding":5}},
"y":{"field":"w","type":"quantitative","scale":{"domain":[-0.049,1.043],"nice":false,"zero":false},"axis":{"orient":"left","title":"ω = Ω/Ωcrit","titlePadding":4,"values":[0,0.05,0.1,0.15,0.2,0.25,0.3,0.35,0.4,0.45,0.5,0.55,0.6,0.65,0.7,0.75,0.8,0.85,0.9,0.95,1],"labelExpr":"abs(datum.value*5-round(datum.value*5))<0.000001 ? format(datum.value,'.1f') : ''","tickSize":{"condition":{"test":"abs(datum.value*5-round(datum.value*5))<0.000001","value":-4},"value":-2},"labelPadding":8}},
"color":{"field":"k","type":"ordinal","scale":{"domain":[0,0.1,0.2,0.3,0.4,0.5,0.6,0.7,0.8,0.9],"range":["#8000FF","#4D4FFC","#1A96F2","#1ACEE3","#4DF2CE","#80FFB4","#B3F296","#E6CE74","#FF964F","#FF4F28"]},"legend":{"orient":"none","legendX":2,"legendY":-17,"direction":"horizontal","columns":10,"title":null,"symbolType":"stroke","symbolSize":169,"symbolStrokeWidth":1.5,"symbolOpacity":0.55,"labelFontSize":7,"labelColor":"#444","labelOffset":4,"columnPadding":5,"padding":2,"strokeColor":"#ccc","labelExpr":"'ω₀ = ' + format(datum.value, '.1f')"}}}},
{"data":{"name":"labels"},"transform":[{"filter":"datum.m==6"}],"mark":{"type":"text","align":"left","baseline":"middle","fontSize":8,"color":"#333"},
"encoding":{"text":{"field":"txt"},
"x":{"field":"t","type":"quantitative","scale":{"domain":[-0.3,92.6],"nice":false,"zero":false},"axis":{"orient":"top","title":null,"labels":false,"values":[2,4,6,8,10,12,14,16,18,20,22,24,26,28,30,32,34,36,38,40,42,44,46,48,50,52,54,56,58,60,62,64,66,68,70,72,74,76,78,80,82,84,86,88,90,92],"tickSize":{"condition":{"test":"datum.value % 10 == 0","value":-4},"value":-2}}},
"y":{"field":"w","type":"quantitative","scale":{"domain":[-0.049,1.043],"nice":false,"zero":false},"axis":{"orient":"right","title":null,"labels":false,"values":[0,0.05,0.1,0.15,0.2,0.25,0.3,0.35,0.4,0.45,0.5,0.55,0.6,0.65,0.7,0.75,0.8,0.85,0.9,0.95,1],"tickSize":{"condition":{"test":"abs(datum.value*5-round(datum.value*5))<0.000001","value":-4},"value":-2}}}}}
]},
{"width":264,"height":136,"resolve":{"axis":{"x":"independent","y":"independent"}},
"layer":[
{"transform":[{"filter":"datum.m==7"}],"mark":{"type":"line","strokeWidth":1,"opacity":0.85},
"encoding":{
"x":{"field":"t","type":"quantitative","scale":{"domain":[-0.1,62.4],"nice":false,"zero":false},"axis":{"orient":"bottom","title":"time [Myr]","titlePadding":2,"values":[2,4,6,8,10,12,14,16,18,20,22,24,26,28,30,32,34,36,38,40,42,44,46,48,50,52,54,56,58,60,62],"labelExpr":"datum.value % 10 == 0 ? datum.label : ''","tickSize":{"condition":{"test":"datum.value % 10 == 0","value":-4},"value":-2},"labelPadding":5}},
"y":{"field":"w","type":"quantitative","scale":{"domain":[-0.049,1.043],"nice":false,"zero":false},"axis":{"orient":"left","title":null,"values":[0,0.05,0.1,0.15,0.2,0.25,0.3,0.35,0.4,0.45,0.5,0.55,0.6,0.65,0.7,0.75,0.8,0.85,0.9,0.95,1],"labelExpr":"abs(datum.value*5-round(datum.value*5))<0.000001 ? format(datum.value,'.1f') : ''","tickSize":{"condition":{"test":"abs(datum.value*5-round(datum.value*5))<0.000001","value":-4},"value":-2},"labelPadding":8}},
"color":{"field":"k","type":"ordinal","scale":{"domain":[0,0.1,0.2,0.3,0.4,0.5,0.6,0.7,0.8,0.9],"range":["#8000FF","#4D4FFC","#1A96F2","#1ACEE3","#4DF2CE","#80FFB4","#B3F296","#E6CE74","#FF964F","#FF4F28"]},"legend":{"orient":"none","legendX":2,"legendY":-17,"direction":"horizontal","columns":10,"title":null,"symbolType":"stroke","symbolSize":169,"symbolStrokeWidth":1.5,"symbolOpacity":0.55,"labelFontSize":7,"labelColor":"#444","labelOffset":4,"columnPadding":5,"padding":2,"strokeColor":"#ccc","labelExpr":"'ω₀ = ' + format(datum.value, '.1f')"}}}},
{"data":{"name":"labels"},"transform":[{"filter":"datum.m==7"}],"mark":{"type":"text","align":"left","baseline":"middle","fontSize":8,"color":"#333"},
"encoding":{"text":{"field":"txt"},
"x":{"field":"t","type":"quantitative","scale":{"domain":[-0.1,62.4],"nice":false,"zero":false},"axis":{"orient":"top","title":null,"labels":false,"values":[2,4,6,8,10,12,14,16,18,20,22,24,26,28,30,32,34,36,38,40,42,44,46,48,50,52,54,56,58,60,62],"tickSize":{"condition":{"test":"datum.value % 10 == 0","value":-4},"value":-2}}},
"y":{"field":"w","type":"quantitative","scale":{"domain":[-0.049,1.043],"nice":false,"zero":false},"axis":{"orient":"right","title":null,"labels":false,"values":[0,0.05,0.1,0.15,0.2,0.25,0.3,0.35,0.4,0.45,0.5,0.55,0.6,0.65,0.7,0.75,0.8,0.85,0.9,0.95,1],"tickSize":{"condition":{"test":"abs(datum.value*5-round(datum.value*5))<0.000001","value":-4},"value":-2}}}}}
]}
],"spacing":15}
],"spacing":8
}
